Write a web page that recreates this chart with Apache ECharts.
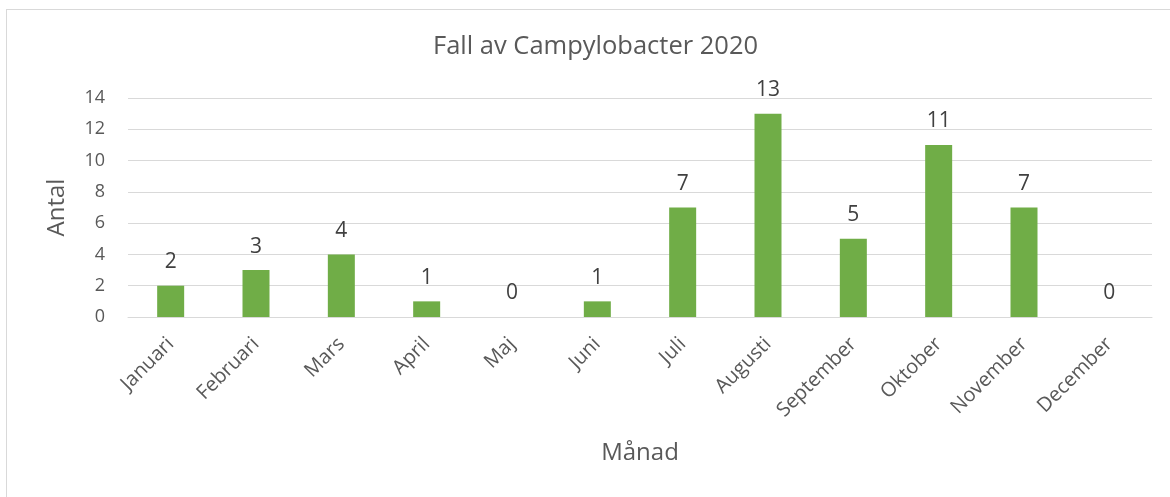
<!DOCTYPE html>
<html>
<head>
<meta charset="utf-8">
<script src="https://cdn.jsdelivr.net/npm/echarts@6/dist/echarts.min.js"></script>
<style>
    html, body { margin: 0; padding: 0; background: #fff; }
    #frame { position: absolute; left: 6px; top: 9px; width: 1180px; height: 500px; border: 1px solid #d9d9d9; box-sizing: border-box; }
    #chart { position: absolute; left: 0; top: 0; width: 1170px; height: 497px; }
</style>
</head>
<body>
<div id="frame"></div>
<div id="chart"></div>
<script>
    var months = ['Januari', 'Februari', 'Mars', 'April', 'Maj', 'Juni', 'Juli', 'Augusti', 'September', 'Oktober', 'November', 'December'];
    var cases = [2, 3, 4, 1, 0, 1, 7, 13, 5, 11, 7, 0];
    var yTicks = [0, 2, 4, 6, 8, 10, 12, 14];

    var font = '"Open Sans", sans-serif';
    var chart = echarts.init(document.getElementById('chart'));
    var option = {
        animation: false,
        title: {
            text: 'Fall av Campylobacter 2020',
            left: 428,
            top: 29,
            textStyle: { fontFamily: font, fontSize: 25.5, fontWeight: 'normal', color: '#595959' }
        },
        grid: { left: 128, right: 18, top: 98, height: 219, containLabel: false },
        xAxis: {
            type: 'category',
            data: months,
            name: 'Månad',
            nameLocation: 'middle',
            nameGap: 124,
            nameTextStyle: { fontFamily: font, fontSize: 24, color: '#595959' },
            axisLine: { lineStyle: { color: '#d9d9d9', width: 1 } },
            axisTick: { show: false },
            axisLabel: { rotate: 45, margin: 24, fontFamily: font, fontSize: 20, color: '#595959', interval: 0 }
        },
        yAxis: {
            type: 'value',
            min: yTicks[0],
            max: yTicks[yTicks.length - 1],
            interval: 2,
            name: 'Antal',
            nameLocation: 'middle',
            nameGap: 59,
            nameTextStyle: { fontFamily: font, fontSize: 24, color: '#595959' },
            axisLine: { show: false },
            axisTick: { show: false },
            splitLine: { lineStyle: { color: '#d9d9d9', width: 1 } },
            axisLabel: { margin: 23, fontFamily: font, fontSize: 18, color: '#595959' }
        },
        series: [{
            type: 'bar',
            data: cases,
            barWidth: 27,
            itemStyle: { color: '#70ad47' },
            label: {
                show: true,
                position: 'top',
                distance: 13,
                fontFamily: font,
                fontSize: 21,
                color: '#404040'
            }
        }]
    };
    chart.setOption(option);
</script>
</body>
</html>
